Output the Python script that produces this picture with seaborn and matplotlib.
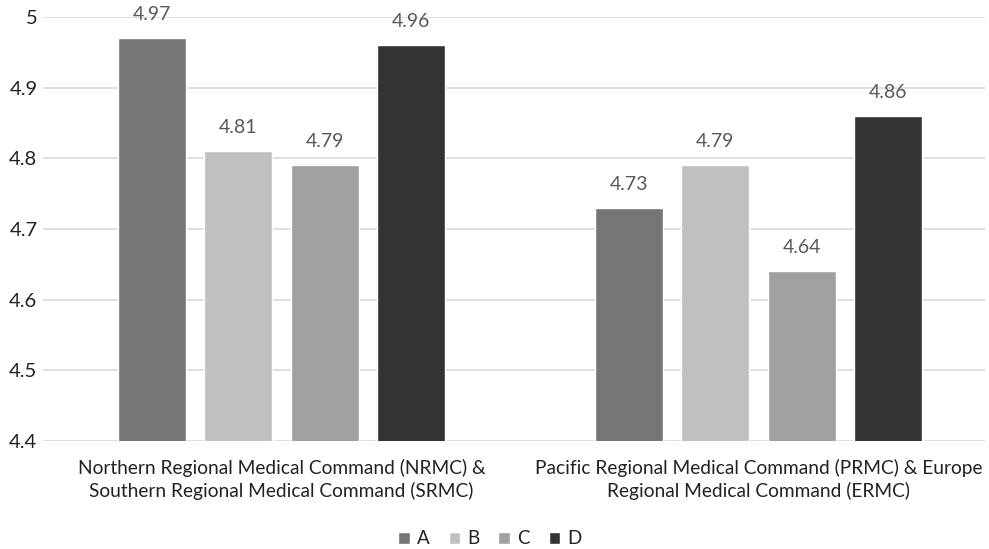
import matplotlib
matplotlib.use("Agg")
import matplotlib.pyplot as plt
import seaborn as sns
import pandas as pd

# Regional command groups and mean scores per series
regions = [
    "Northern Regional Medical Command (NRMC) &\nSouthern Regional Medical Command (SRMC)",
    "Pacific Regional Medical Command (PRMC) & Europe\nRegional Medical Command (ERMC)",
]
series = ["A", "B", "C", "D"]
scores_a = [4.97, 4.73]
scores_b = [4.81, 4.79]
scores_c = [4.79, 4.64]
scores_d = [4.96, 4.86]
y_ticks = [4.4, 4.5, 4.6, 4.7, 4.8, 4.9, 5.0]
y_tick_labels = ["4.4", "4.5", "4.6", "4.7", "4.8", "4.9", "5"]

palette = ["#767676", "#c0c0c0", "#a0a0a0", "#333333"]

rows = []
for name, vals in zip(series, [scores_a, scores_b, scores_c, scores_d]):
    for reg, v in zip(regions, vals):
        rows.append({"region": reg, "series": name, "score": v})
df = pd.DataFrame(rows)

sns.set_theme(style="white")
plt.rcParams["font.family"] = ["Lato", "DejaVu Sans"]

fig = plt.figure(figsize=(9.89, 5.49), dpi=100)
ax = fig.add_axes([43 / 989, 108 / 549, 942 / 989, 424 / 549])

sns.barplot(
    data=df, x="region", y="score", hue="series", hue_order=series,
    order=regions, palette=palette, width=0.725, gap=0.21,
    saturation=1, ax=ax, legend=True, zorder=2,
)

ax.set_ylim(4.4, 5.0)
ax.set_xlim(-0.5, 1.475)
ax.set_yticks(y_ticks)
ax.set_yticklabels(y_tick_labels, fontsize=14.5, color="#222222")
ax.yaxis.grid(True, color="#d9d9d9", linewidth=1.2, zorder=0)
ax.set_axisbelow(True)
for s in ax.spines.values():
    s.set_visible(False)
ax.tick_params(axis="y", length=0, pad=4)
ax.tick_params(axis="x", length=0, pad=13)
ax.set_xlabel("")
ax.set_ylabel("")
for lbl in ax.get_xticklabels():
    lbl.set_fontsize(13.8)
    lbl.set_color("#222222")
    lbl.set_linespacing(1.33)

for cont in ax.containers:
    ax.bar_label(cont, labels=[f"{v:.2f}" for v in cont.datavalues],
                 padding=11, fontsize=14, color="#595959", clip_on=False)

handles, labels = ax.get_legend_handles_labels()
ax.legend(handles, labels, loc="center", bbox_to_anchor=(447 / 942, -(539 - 441) / 424),
          ncol=4, frameon=False, fontsize=13.5, handlelength=0.6, handleheight=0.6,
          handletextpad=0.4, columnspacing=1.0, labelcolor="#222222")

fig.savefig("out.png", dpi=100)
